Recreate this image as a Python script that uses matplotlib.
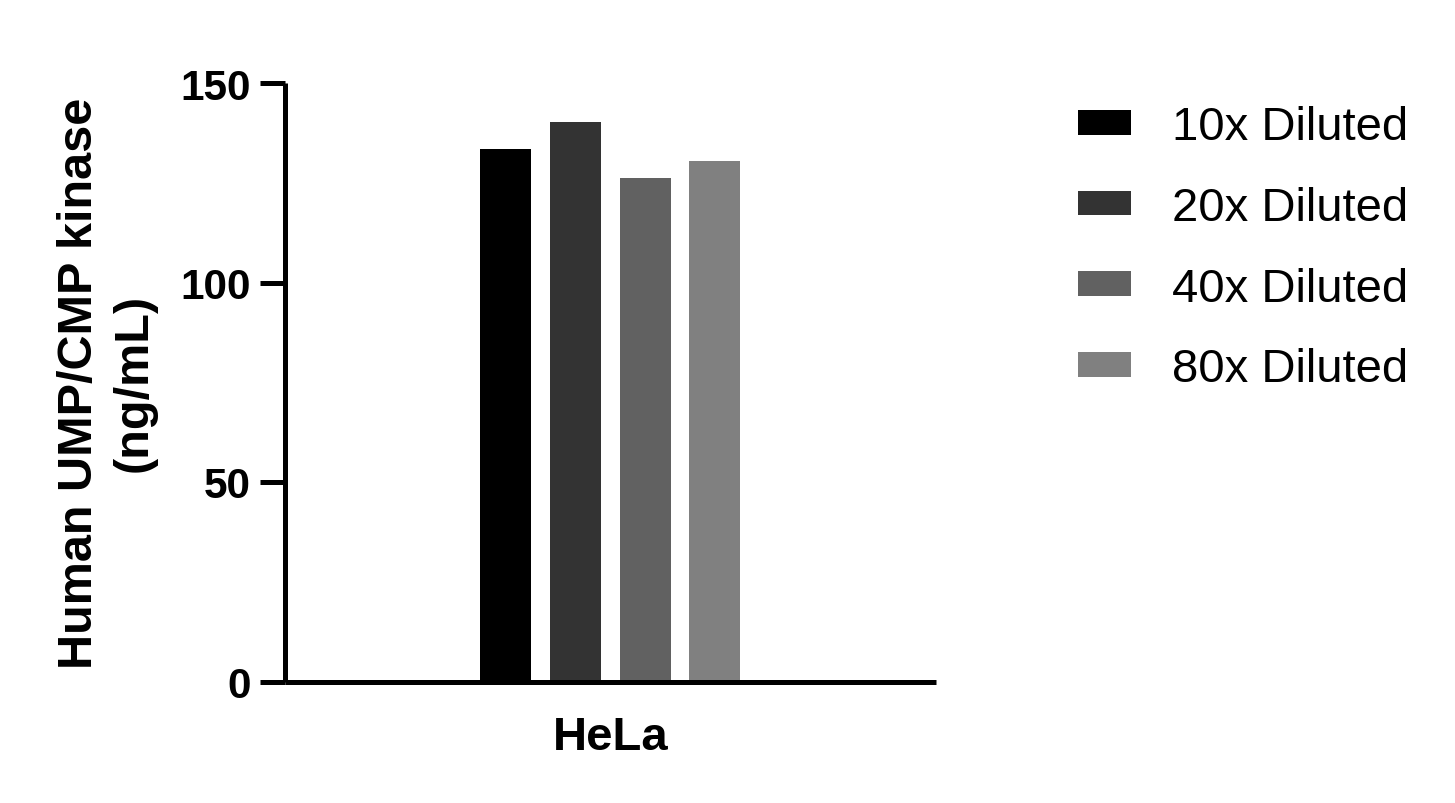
import matplotlib
matplotlib.use("Agg")
import matplotlib.pyplot as plt
import numpy as np

categories = ["HeLa"]
series_labels = ["10x Diluted", "20x Diluted", "40x Diluted", "80x Diluted"]
series_values = [133.5, 140.2, 126.2, 130.5]
series_colors = ["#000000", "#333333", "#616161", "#808080"]
y_ticks = [0, 50, 100, 150]

plt.rcParams['font.family'] = ['Liberation Sans', 'DejaVu Sans']

W, H = 1455, 804
fig = plt.figure(figsize=(W / 100, H / 100), dpi=100)
left, right = 284.5 / W, 936 / W
bottom, top = 1 - 682.5 / H, 1 - 84 / H
ax = fig.add_axes([left, bottom, right - left, top - bottom])

offsets = np.arange(len(series_values)) - (len(series_values) - 1) / 2
bar_w = 0.73
for off, v, c, lab in zip(offsets, series_values, series_colors, series_labels):
    ax.bar(off, v, width=bar_w, color=c, label=lab, edgecolor='none')

ax.set_xlim(-4.675, 4.675)
ax.set_ylim(0, 150)
ax.set_yticks(y_ticks)
ax.set_yticklabels([str(t) for t in y_ticks], fontsize=30.5, fontweight='bold')
ax.set_xticks([0])
ax.set_xticklabels(categories, fontsize=34, fontweight='bold')

for s in ['top', 'right']:
    ax.spines[s].set_visible(False)
for s in ['left', 'bottom']:
    ax.spines[s].set_linewidth(3.6)
    ax.spines[s].set_capstyle('butt')

ax.tick_params(axis='y', length=18, width=3.6, pad=6)
ax.tick_params(axis='x', length=0, pad=24)

ax.set_ylabel("Human UMP/CMP kinase\n(ng/mL)", fontsize=35, fontweight='bold',
              linespacing=1.28, labelpad=17)

leg = ax.legend(loc='upper left', bbox_to_anchor=(1078 / W, 1 - 106 / H),
                bbox_transform=fig.transFigure, frameon=False,
                fontsize=34, handlelength=1.13, handleheight=0.43,
                handletextpad=0.87, labelspacing=0.78, borderpad=0,
                borderaxespad=0)

fig.savefig("out.png", dpi=100)
